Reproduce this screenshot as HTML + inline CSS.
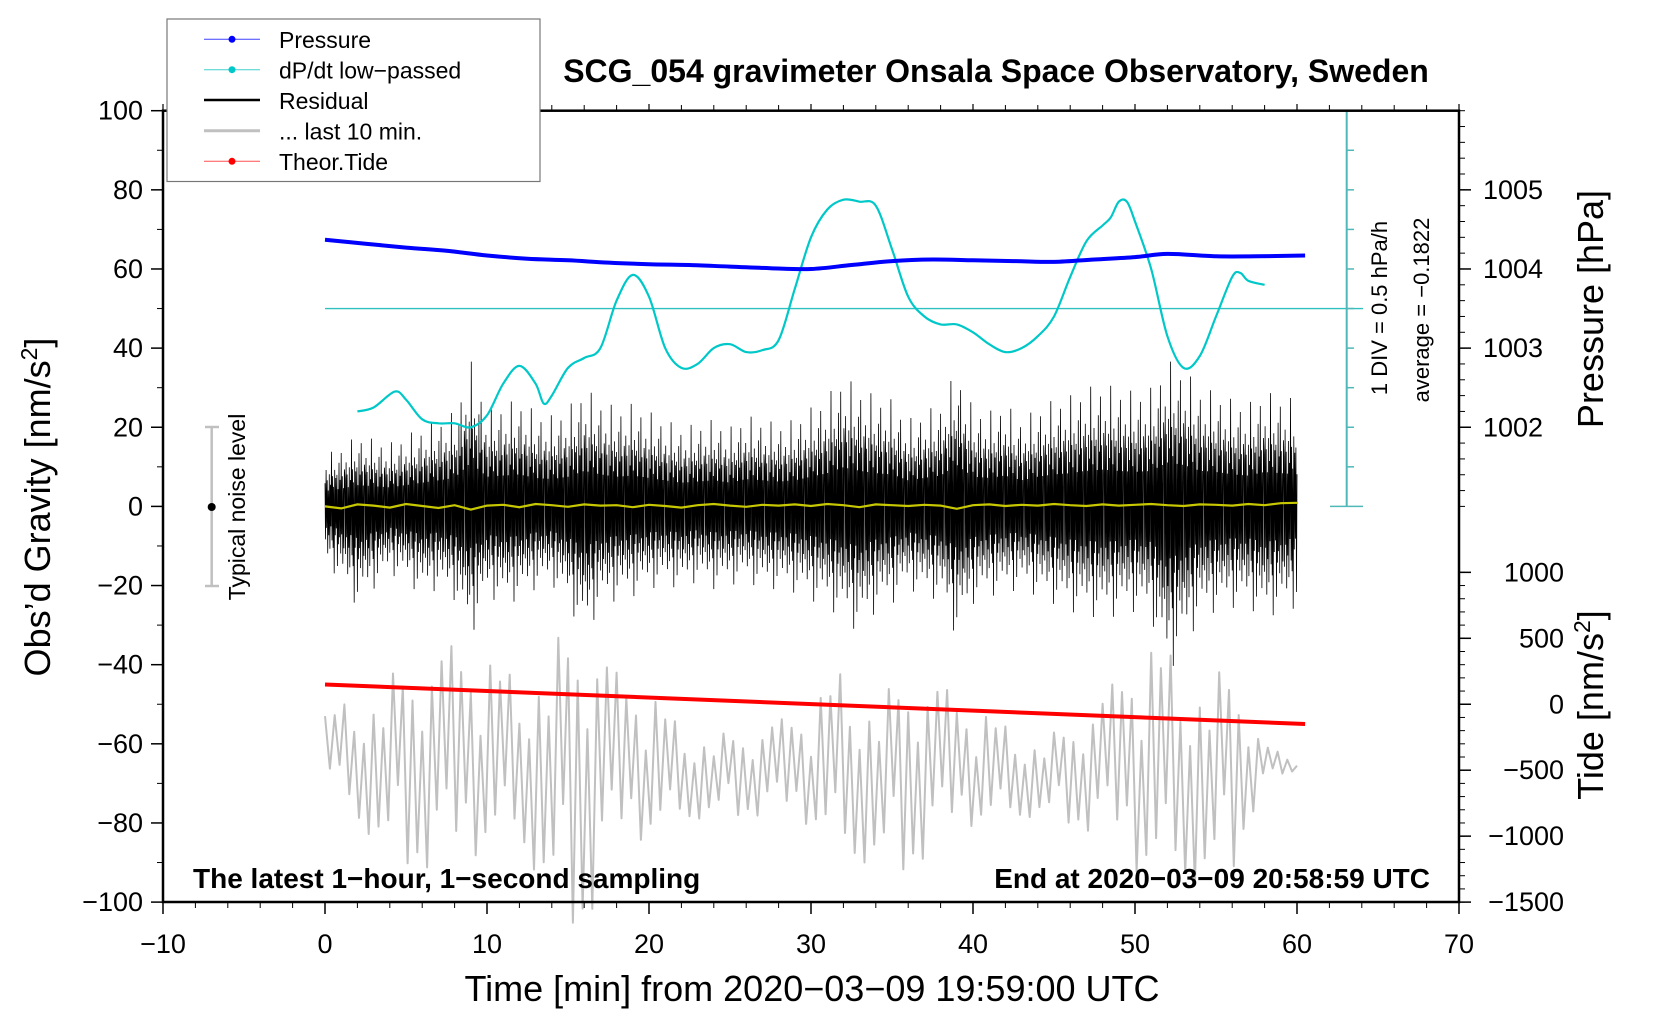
<!DOCTYPE html>
<html><head><meta charset="utf-8"><style>
html,body{margin:0;padding:0;background:#fff;}
svg{display:block;font-family:"Liberation Sans",Arial,sans-serif;}
</style></head><body>
<svg id="chart" width="1660" height="1020" viewBox="0 0 1660 1020" xmlns="http://www.w3.org/2000/svg">
<g id="marks"></g>
<g id="axes"></g>
</svg>
<script>
// ---- data ----
const xTicks = [-10,0,10,20,30,40,50,60,70];
const yTicks = [-100,-80,-60,-40,-20,0,20,40,60,80,100];
const pressureTicks = [1002,1003,1004,1005];
const tideTicks = [-1500,-1000,-500,0,500,1000];
// pressure (hPa) vs minutes
const pressT = [0,2.5,5,7.5,10,12.5,15,17.5,20,22.5,25,27.5,30,32.5,35,37.5,40,42.5,45,47.5,50,52,55,57.5,60.5];
const pressV = [1004.37,1004.32,1004.27,1004.23,1004.17,1004.13,1004.11,1004.08,1004.06,1004.05,1004.03,1004.01,1004.0,1004.05,1004.1,1004.12,1004.11,1004.1,1004.09,1004.12,1004.15,1004.19,1004.16,1004.16,1004.17];
// dP/dt low-passed, plotted in gravity-scale units (DIV units)
const dpT = [2,3,4.3,5,6,7,8,9,10,11,12,13,13.5,14,15,16,17,18,19,20,21,22,23,24,25,26,27,28,29,30,31,32,33,34,35,36,37,38,39,40,41,42,43,44,45,46,47,48,48.5,49,49.5,50,51,52,53,54,55,56,56.5,57,58];
const dpV = [24,25,29,27,22,21,21,20,23,31,35.5,31,26,28,35,37.5,40,52,58.5,53,40,35,36,40,41,39,39.5,42,55,68,75,77.5,77,76,65,53,48,46,46,44,41,39,40,43,48,58,67,71,73,77,77,72,60,43,35,38,48,58,59,57,56];
// residual envelope per minute (nm/s^2)
const resHi = [13,15,18,17,16,18,20,22,24,37,25,26,27,24,23,25,30,27,25,26,24,22,20,21,22,20,23,22,21,22,25,28,33,30,28,27,22,24,26,35,25,24,26,22,25,27,28,30,31,30,29,30,37,35,30,29,27,26,29,28,27];
const resLo = [-15,-20,-27,-22,-18,-20,-24,-22,-25,-35,-24,-26,-25,-22,-21,-26,-35,-27,-25,-24,-22,-21,-22,-20,-22,-21,-20,-22,-22,-23,-25,-27,-30,-34,-28,-26,-22,-24,-25,-35,-26,-24,-23,-22,-24,-26,-28,-29,-30,-29,-28,-30,-45,-38,-30,-28,-27,-27,-30,-28,-27];
// yellow low-passed residual
const yelV = [0,-0.5,0.5,0.2,-0.3,0.6,0.1,-0.4,0.3,-0.8,0.2,0.4,-0.2,0.6,0.3,-0.1,0.5,0.2,0.3,-0.2,0.4,0.1,-0.3,0.3,0.6,0.2,-0.1,0.4,0.2,0.5,0.1,0.6,0.3,-0.2,0.5,0.3,0.1,0.4,0.2,-0.6,0.3,0.5,0.1,0.4,0.2,0.6,0.3,0.1,0.5,0.2,0.4,0.6,0.3,0.1,0.5,0.4,0.2,0.6,0.3,0.8,0.9];
// gray "last 10 min" envelope per 2 minutes (upper/lower, gravity units)
const grayHi = [-53,-47,-40,-38,-35,-40,-42,-30,-28,-42,-48,-55,-56,-57,-54,-52,-40,-45,-42,-45,-52,-55,-57,-55,-48,-38,-36,-38,-40,-60,-65];
const grayLo = [-68,-80,-88,-92,-96,-88,-85,-100,-108,-90,-85,-80,-78,-78,-80,-82,-90,-90,-92,-88,-82,-80,-78,-80,-85,-95,-96,-95,-92,-70,-68];
// theoretical tide (nm/s^2)
const tideT = [0,60.5];
const tideV = [150,-150];

// ---- axis functions ----
const X = t => 163 + (t + 10) * 16.2;
const Y = g => 110.7 + (100 - g) * 3.957;
const YP = p => Y(80 + (p - 1005) * 20);
const YT = v => Y(-50 + v / 30);

const NS = "http://www.w3.org/2000/svg";
const marks = document.getElementById('marks');
const axes = document.getElementById('axes');
function mk(tag, attrs, parent){ const e=document.createElementNS(NS,tag); for(const k in attrs) e.setAttribute(k,attrs[k]); (parent||marks).appendChild(e); return e; }
function interpArr(arr, step, t){ const i=t/step; const i0=Math.max(0,Math.min(arr.length-1,Math.floor(i))); const i1=Math.min(arr.length-1,i0+1); const f=i-i0; return arr[i0]+(arr[i1]-arr[i0])*Math.max(0,Math.min(1,f)); }
function smooth(pts){ let d='M'+pts[0][0].toFixed(1)+' '+pts[0][1].toFixed(1);
  for(let i=0;i<pts.length-1;i++){ const p0=pts[Math.max(0,i-1)],p1=pts[i],p2=pts[i+1],p3=pts[Math.min(pts.length-1,i+2)];
    const c1=[p1[0]+(p2[0]-p0[0])/6,p1[1]+(p2[1]-p0[1])/6], c2=[p2[0]-(p3[0]-p1[0])/6,p2[1]-(p3[1]-p1[1])/6];
    d+='C'+c1[0].toFixed(1)+' '+c1[1].toFixed(1)+' '+c2[0].toFixed(1)+' '+c2[1].toFixed(1)+' '+p2[0].toFixed(1)+' '+p2[1].toFixed(1); }
  return d; }

// gray last-10-min
{
  const pat=[1,0.6,0.85,0.3,0.95,0.7,0.4,0.9,0.2,1,0.55,0.8,0.35,0.65,0.9,0.25,0.75];
  let d=''; let k=0;
  for(let t=0;t<=60;t+=0.3){ const hi=interpArr(grayHi,2,t), lo=interpArr(grayLo,2,t); const c=(hi+lo)/2, a=(hi-lo)/2*pat[k%pat.length]; const v= (k%2===0)? c+a : c-a; d+=(k?'L':'M')+X(t).toFixed(1)+' '+Y(v).toFixed(1); k++; }
  const p=mk('path',{d:d,fill:'none',stroke:'#c0c0c0','stroke-width':2,'stroke-linejoin':'round'});
  
  
}
// residual
{
  const pat=[0.45,-0.55,0.7,-0.35,0.5,-0.75,0.3,-0.45,0.6,-0.65,0.4,-0.3,1,-0.5,0.55,-0.6,0.35,-0.95,0.65,-0.4,0.5,-0.3,0.55,-0.8,0.3,-0.5,0.75,-0.4,0.45,-0.6,0.9,-0.35,0.5,-0.7,0.3,-0.5,0.6];
  let d=''; let k=0;
  for(let t=0;t<=60;t+=1/30){ const hi=interpArr(resHi,1,t), lo=interpArr(resLo,1,t); const m=pat[k%pat.length]; const v=m>0?hi*m:-lo*m; d+=(k?'L':'M')+X(t).toFixed(1)+' '+Y(v).toFixed(1); k++; }
  const p=mk('path',{d:d,fill:'none',stroke:'#000','stroke-width':0.8});
  
  
}
// yellow
{
  let d=''; yelV.forEach((v,i)=>{ d+=(i?'L':'M')+X(i).toFixed(1)+' '+Y(v).toFixed(1); });
  const p=mk('path',{d:d,fill:'none',stroke:'#c8c800','stroke-width':2.2});
  
  
}
// cyan baseline & scale
{
  const l=mk('line',{x1:X(0),x2:1363,y1:Y(50),y2:Y(50),stroke:'#30c0c0','stroke-width':1.3});
  
  
  const s=mk('line',{x1:1346.7,x2:1346.7,y1:Y(100),y2:Y(0),stroke:'#50b8b8','stroke-width':2});
  
  
  for(let g=0;g<=100;g+=10){ const end=(g===0||g===100); const tk=mk('line',{x1:end?1330:1346.7,x2:end?1363:1354,y1:Y(g),y2:Y(g),stroke:'#50b8b8','stroke-width':1.5});
    
     }
}
// cyan curve
{
  const pts=dpT.map((t,i)=>[X(t),Y(dpV[i])]);
  const p=mk('path',{d:smooth(pts),fill:'none',stroke:'#00c8c8','stroke-width':2.2,'stroke-linejoin':'round'});
  
  
}
// pressure
{
  const pts=pressT.map((t,i)=>[X(t),YP(pressV[i])]);
  const p=mk('path',{d:smooth(pts),fill:'none',stroke:'#0000ff','stroke-width':4});
  
  
}
// tide
{
  let d=''; tideT.forEach((t,i)=>{ d+=(i?'L':'M')+X(t).toFixed(1)+' '+YT(tideV[i]).toFixed(1); });
  const p=mk('path',{d:d,fill:'none',stroke:'#ff0000','stroke-width':4});
  
  
}
// axes frame
{
  const f=mk('rect',{x:163,y:110.7,width:1296,height:791.3,fill:'none',stroke:'#000','stroke-width':2.5},axes);
  
  
  const txt=(x,y,s,sz,anchor,extra)=>{ const e=mk('text',Object.assign({x:x,y:y,'font-size':sz,'text-anchor':anchor||'middle',fill:'#000'},extra||{}),axes); e.textContent=s; return e; };
  const fmt=v=>v<0?'\u2212'+(-v):''+v;
  xTicks.forEach(t=>{ mk('line',{x1:X(t),x2:X(t),y1:902,y2:914,stroke:'#000','stroke-width':1.5},axes); mk('line',{x1:X(t),x2:X(t),y1:110.7,y2:104,stroke:'#000','stroke-width':1.2},axes);
    const e=txt(X(t),953,fmt(t),27);   });
  for(let t=-10;t<=70;t+=2){ mk('line',{x1:X(t),x2:X(t),y1:902,y2:908,stroke:'#000','stroke-width':1},axes); mk('line',{x1:X(t),x2:X(t),y1:110.7,y2:105,stroke:'#000','stroke-width':1},axes); }
  yTicks.forEach(g=>{ mk('line',{x1:151,x2:163,y1:Y(g),y2:Y(g),stroke:'#000','stroke-width':1.5},axes);
    const e=txt(143,Y(g)+9,fmt(g),27,'end');   });
  for(let g=-90;g<100;g+=20) mk('line',{x1:157,x2:163,y1:Y(g),y2:Y(g),stroke:'#000','stroke-width':1},axes);
  pressureTicks.forEach(p=>{ mk('line',{x1:1459,x2:1471,y1:YP(p),y2:YP(p),stroke:'#000','stroke-width':1.5},axes);
    const e=txt(1483,YP(p)+9,''+p,27,'start');   });
  for(let g=0;g<=100;g+=4) mk('line',{x1:1459,x2:1465,y1:Y(g),y2:Y(g),stroke:'#000','stroke-width':1},axes);
  tideTicks.forEach(v=>{ mk('line',{x1:1459,x2:1471,y1:YT(v),y2:YT(v),stroke:'#000','stroke-width':1.5},axes);
    const e=txt(1564,YT(v)+9,fmt(v),27,'end');   });
  for(let v=-1500;v<=1000;v+=100) mk('line',{x1:1459,x2:1465,y1:YT(v),y2:YT(v),stroke:'#000','stroke-width':1},axes);
}
</script>
<!-- static text -->
<svg width="1660" height="1020" style="position:absolute;left:0;top:0;font-family:'Liberation Sans',Arial,sans-serif" xmlns="http://www.w3.org/2000/svg">
<text x="996" y="82" font-size="32" font-weight="bold" text-anchor="middle">SCG_054 gravimeter Onsala Space Observatory, Sweden</text>
<text transform="translate(50,507) rotate(-90)" font-size="36" text-anchor="middle">Obs’d Gravity [nm/s<tspan font-size="23" dy="-13">2</tspan><tspan dy="13">]</tspan></text>
<text x="812" y="1001" font-size="36" text-anchor="middle">Time [min] from 2020−03−09 19:59:00 UTC</text>
<text transform="translate(1603,309) rotate(-90)" font-size="36" text-anchor="middle">Pressure [hPa]</text>
<text transform="translate(1603,705) rotate(-90)" font-size="36" text-anchor="middle">Tide [nm/s<tspan font-size="23" dy="-13">2</tspan><tspan dy="13">]</tspan></text>
<text transform="translate(1387,308) rotate(-90)" font-size="22" text-anchor="middle">1 DIV = 0.5 hPa/h</text>
<text transform="translate(1429,310) rotate(-90)" font-size="22" text-anchor="middle">average = −0.1822</text>
<text x="193" y="888" font-size="28" font-weight="bold">The latest 1−hour, 1−second sampling</text>
<text x="1430" y="888" font-size="28" font-weight="bold" text-anchor="end">End at 2020−03−09 20:58:59 UTC</text>
<g>
<line x1="211.7" x2="211.7" y1="427" y2="586" stroke="#c0c0c0" stroke-width="2.5"/>
<line x1="205" x2="219" y1="427" y2="427" stroke="#c0c0c0" stroke-width="2.5"/>
<line x1="205" x2="219" y1="586" y2="586" stroke="#c0c0c0" stroke-width="2.5"/>
<circle cx="211.7" cy="507" r="4" fill="#000"/>
<text transform="translate(245,507) rotate(-90)" font-size="23" text-anchor="middle">Typical noise level</text>
</g>
<g>
<rect x="167" y="19" width="373" height="162.5" fill="#fff" stroke="#777" stroke-width="1.2"/>
<line x1="204" x2="260" y1="39.3" y2="39.3" stroke="#4040ff" stroke-width="1"/><circle cx="232" cy="39.3" r="3.5" fill="#0000ff"/>
<text x="279" y="48" font-size="23">Pressure</text>
<line x1="204" x2="260" y1="69.7" y2="69.7" stroke="#40d0d0" stroke-width="1"/><circle cx="232" cy="69.7" r="3.5" fill="#00c8c8"/>
<text x="279" y="78.5" font-size="23">dP/dt low−passed</text>
<line x1="204" x2="260" y1="100" y2="100" stroke="#000" stroke-width="2.5"/>
<text x="279" y="109" font-size="23">Residual</text>
<line x1="204" x2="260" y1="130.7" y2="130.7" stroke="#c0c0c0" stroke-width="3"/>
<text x="279" y="139.5" font-size="23">... last 10 min.</text>
<line x1="204" x2="260" y1="161.3" y2="161.3" stroke="#ff5050" stroke-width="1"/><circle cx="232" cy="161.3" r="3.5" fill="#ff0000"/>
<text x="279" y="170" font-size="23">Theor.Tide</text>
</g>
</svg>
</body></html>
